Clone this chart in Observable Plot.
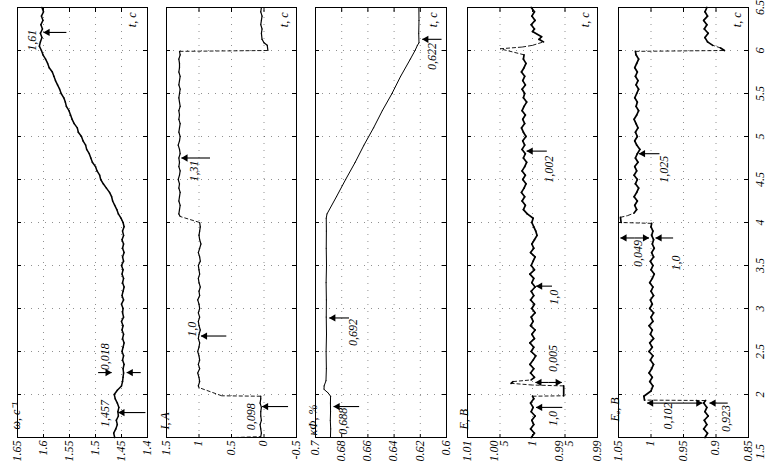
<!DOCTYPE html>
<html><head><meta charset="utf-8">
<script src="https://cdn.jsdelivr.net/npm/d3@7"></script>
<script src="https://cdn.jsdelivr.net/npm/@observablehq/plot@0.6"></script>
<style>
html,body{margin:0;padding:0;background:#fff;overflow:hidden;}
#page{position:relative;width:766px;height:462px;overflow:hidden;background:#fff;}
#rot{position:absolute;left:0;top:0;width:462px;height:766px;transform-origin:0 0;transform:translate(0px,462px) rotate(-90deg);}
#rot svg{position:absolute;left:0;overflow:visible;}
</style></head>
<body><div id="page"><div id="rot"></div></div>
<script>
// ---- time axis ----
const timeTicks = [1.5, 2, 2.5, 3, 3.5, 4, 4.5, 5, 5.5, 6, 6.5];
const timeTickLabels = ["1.5","2","2.5","3","3.5","4","4.5","5","5.5","6","6.5"];

// ---- panel 1: omega ----
const omegaTicks = [1.4, 1.45, 1.5, 1.55, 1.6, 1.65];
const omegaTickLabels = ["1.4","1.45","1.5","1.55","1.6","1.65"];
const omega = [[1.50,1.463],[1.55,1.465],[1.60,1.461],[1.65,1.458],[1.70,1.460],[1.75,1.456],[1.80,1.457],[1.85,1.455],[1.90,1.458],[1.95,1.462],[2.00,1.464],[2.05,1.458],[2.10,1.450],[2.15,1.448],[2.20,1.447],[2.25,1.446],[2.30,1.447],[2.35,1.445],[2.40,1.448],[2.45,1.446],[2.50,1.449],[2.55,1.447],[2.60,1.445],[2.65,1.448],[2.70,1.446],[2.75,1.449],[2.80,1.447],[2.85,1.450],[2.90,1.446],[2.95,1.448],[3.00,1.447],[3.05,1.450],[3.10,1.446],[3.15,1.449],[3.20,1.447],[3.25,1.445],[3.30,1.448],[3.35,1.446],[3.40,1.449],[3.45,1.447],[3.50,1.450],[3.55,1.446],[3.60,1.448],[3.65,1.445],[3.70,1.448],[3.75,1.446],[3.80,1.449],[3.85,1.446],[3.90,1.448],[3.95,1.445],[4.00,1.447],[4.05,1.451],[4.10,1.456],[4.15,1.459],[4.20,1.463],[4.25,1.467],[4.30,1.469],[4.35,1.473],[4.40,1.479],[4.45,1.485],[4.50,1.490],[4.55,1.492],[4.60,1.497],[4.65,1.500],[4.70,1.506],[4.75,1.509],[4.80,1.512],[4.85,1.517],[4.90,1.519],[4.95,1.524],[5.00,1.527],[5.05,1.533],[5.10,1.535],[5.15,1.541],[5.20,1.545],[5.25,1.548],[5.30,1.551],[5.35,1.556],[5.40,1.558],[5.45,1.561],[5.50,1.566],[5.55,1.569],[5.60,1.573],[5.65,1.577],[5.70,1.580],[5.75,1.583],[5.80,1.589],[5.85,1.592],[5.90,1.596],[5.95,1.601],[6.00,1.604],[6.05,1.608],[6.10,1.606],[6.15,1.603],[6.20,1.606],[6.25,1.602],[6.30,1.605],[6.35,1.601],[6.40,1.604],[6.45,1.600],[6.50,1.603]];
const omegaArrows = [{t:6.21,from:1.556,to:1.600},{t:1.79,from:1.404,to:1.456},{t:2.255,from:1.495,to:1.469},{t:2.255,from:1.413,to:1.440}];
const omegaNotes = [{t:6.12,v:1.622,text:"1,61"},{t:1.78,v:1.482,text:"1,457"},{t:2.44,v:1.482,text:"0,018"}];

// ---- panel 2: current ----
const currentTicks = [-0.5, 0, 0.5, 1, 1.5];
const currentTickLabels = ["-0.5","0","0.5","1","1.5"];
const current = [[1.50,0.45],[1.51,0.05],[1.55,0.04],[1.60,0.05],[1.65,0.06],[1.70,0.04],[1.75,0.05],[1.80,0.05],[1.85,0.04],[1.90,0.06],[1.95,0.05],[1.98,0.05],[1.985,0.65],[2.08,1.00],[2.10,1.01],[2.15,0.99],[2.20,1.00],[2.25,1.02],[2.30,0.99],[2.35,1.01],[2.40,0.99],[2.45,1.00],[2.50,1.02],[2.55,1.00],[2.60,0.99],[2.65,1.01],[2.70,1.00],[2.75,0.98],[2.80,1.00],[2.85,1.01],[2.90,0.99],[2.95,1.01],[3.00,0.99],[3.05,1.00],[3.10,1.02],[3.15,0.99],[3.20,1.00],[3.25,0.98],[3.30,1.00],[3.35,1.01],[3.40,0.99],[3.45,1.00],[3.50,1.01],[3.55,0.98],[3.60,0.99],[3.65,1.01],[3.70,0.99],[3.75,0.97],[3.80,0.99],[3.85,1.00],[3.90,0.99],[3.95,0.98],[4.00,0.99],[4.07,1.29],[4.10,1.31],[4.15,1.30],[4.20,1.29],[4.25,1.31],[4.30,1.30],[4.35,1.29],[4.40,1.31],[4.45,1.30],[4.50,1.32],[4.55,1.30],[4.60,1.29],[4.65,1.31],[4.70,1.30],[4.75,1.31],[4.80,1.29],[4.85,1.30],[4.90,1.32],[4.95,1.30],[5.00,1.29],[5.05,1.31],[5.10,1.30],[5.15,1.29],[5.20,1.31],[5.25,1.30],[5.30,1.31],[5.35,1.29],[5.40,1.30],[5.45,1.31],[5.50,1.30],[5.55,1.29],[5.60,1.31],[5.65,1.30],[5.70,1.29],[5.75,1.31],[5.80,1.30],[5.85,1.30],[5.90,1.31],[5.95,1.29],[5.99,1.30],[6.00,-0.06],[6.06,-0.05],[6.09,0.00],[6.13,0.03],[6.20,0.04],[6.25,0.03],[6.30,0.05],[6.35,0.04],[6.40,0.03],[6.45,0.05],[6.50,0.04]];
const currentArrows = [{t:1.86,from:-0.37,to:0.03},{t:2.68,from:0.58,to:0.97},{t:4.75,from:0.83,to:1.27}];
const currentNotes = [{t:1.74,v:0.20,text:"0,098"},{t:2.76,v:1.10,text:"1,0"},{t:4.60,v:1.07,text:"1,31"}];

// ---- panel 3: kappa phi ----
const kappaTicks = [0.6, 0.62, 0.64, 0.66, 0.68, 0.7];
const kappaTickLabels = ["0.6","0.62","0.64","0.66","0.68","0.7"];
const kappa = [[1.50,0.6886],[1.60,0.6884],[1.70,0.6887],[1.80,0.6885],[1.90,0.6886],[1.98,0.6885],[2.02,0.6905],[2.06,0.6935],[2.10,0.6934],[2.16,0.6920],[2.30,0.6917],[2.50,0.6919],[2.70,0.6916],[2.90,0.6918],[3.10,0.6917],[3.30,0.6919],[3.50,0.6916],[3.70,0.6918],[3.90,0.6917],[4.05,0.6918],[4.10,0.6912],[4.30,0.6840],[4.50,0.6770],[4.70,0.6697],[4.90,0.6630],[5.10,0.6557],[5.30,0.6490],[5.50,0.6416],[5.70,0.6350],[5.90,0.6276],[6.00,0.6240],[6.06,0.6222],[6.09,0.6210],[6.20,0.6212],[6.35,0.6210],[6.50,0.6211]];
const kappaArrows = [{t:1.86,from:0.6667,to:0.6862},{t:2.89,from:0.6744,to:0.6895},{t:6.13,from:0.6038,to:0.6185}];
const kappaNotes = [{t:1.69,v:0.679,text:"0,688"},{t:2.72,v:0.671,text:"0,692"},{t:5.93,v:0.611,text:"0,622"}];

// ---- panel 4: E ----
const eTicks = [0.99, 0.995, 1, 1.005, 1.01];
const eTickLabels = ["0.99","0.99\n5","1","1.00\n5","1.01"];
const voltE = [[1.50,1.0002],[1.55,0.9997],[1.60,1.0003],[1.65,0.9998],[1.70,1.0001],[1.75,0.9996],[1.80,1.0002],[1.85,0.9999],[1.90,1.0003],[1.95,0.9998],[1.98,1.0000],[1.985,0.9952],[2.10,0.9952],[2.11,1.0000],[2.13,1.0033],[2.15,1.0030],[2.17,1.0002],[2.20,0.9997],[2.25,1.0003],[2.30,0.9998],[2.35,1.0004],[2.40,0.9999],[2.45,0.9995],[2.50,1.0002],[2.55,0.9998],[2.60,1.0004],[2.65,0.9997],[2.70,1.0001],[2.75,0.9996],[2.80,1.0003],[2.85,0.9999],[2.90,1.0002],[2.95,0.9996],[3.00,1.0001],[3.05,0.9997],[3.10,1.0003],[3.15,0.9998],[3.20,1.0002],[3.25,0.9996],[3.30,1.0001],[3.35,0.9998],[3.40,1.0004],[3.45,0.9997],[3.50,1.0002],[3.55,0.9999],[3.60,0.9996],[3.65,1.0003],[3.70,0.9998],[3.75,1.0001],[3.80,0.9997],[3.85,0.9993],[3.90,0.9995],[3.95,0.9998],[4.00,1.0001],[4.05,0.9999],[4.10,1.0008],[4.15,1.0014],[4.20,1.0011],[4.25,1.0016],[4.30,1.0012],[4.35,1.0017],[4.40,1.0013],[4.45,1.0010],[4.50,1.0015],[4.55,1.0011],[4.60,1.0016],[4.65,1.0012],[4.70,1.0009],[4.75,1.0014],[4.80,1.0011],[4.85,1.0016],[4.90,1.0012],[4.95,1.0015],[5.00,1.0010],[5.05,1.0014],[5.10,1.0017],[5.15,1.0012],[5.20,1.0015],[5.25,1.0011],[5.30,1.0016],[5.35,1.0013],[5.40,1.0009],[5.45,1.0014],[5.50,1.0012],[5.55,1.0016],[5.60,1.0011],[5.65,1.0015],[5.70,1.0012],[5.75,1.0017],[5.80,1.0013],[5.85,1.0010],[5.90,1.0014],[5.95,1.0013],[6.02,1.0050],[6.04,1.0016],[6.06,1.0000],[6.10,0.9983],[6.13,0.9990],[6.16,0.9986],[6.22,1.0000],[6.25,0.9997],[6.30,1.0002],[6.35,0.9996],[6.40,1.0001],[6.45,0.9997],[6.50,1.0002]];
const eArrows = [{t:1.85,from:0.99542,to:0.99945},{t:2.14,from:0.9975,to:0.99955},{t:2.14,from:0.9975,to:0.9955},{t:3.26,from:0.9970,to:0.99945},{t:4.83,from:0.9978,to:1.0009}];
const eNotes = [{t:1.72,v:0.9968,text:"1,0"},{t:2.42,v:0.9968,text:"0,005"},{t:3.13,v:0.9966,text:"1,0"},{t:4.62,v:0.9974,text:"1,002"}];

// ---- panel 5: Ea ----
const eaTicks = [0.85, 0.9, 0.95, 1, 1.05];
const eaTickLabels = ["0.85","0.9","0.95","1","1.05"];
const voltEa = [[1.50,0.917],[1.55,0.913],[1.60,0.919],[1.65,0.914],[1.70,0.918],[1.75,0.912],[1.80,0.917],[1.85,0.914],[1.90,0.919],[1.93,0.916],[1.935,1.010],[1.98,1.011],[2.04,1.000],[2.10,0.997],[2.15,1.002],[2.20,0.998],[2.25,1.003],[2.30,0.999],[2.35,0.996],[2.40,1.001],[2.45,0.997],[2.50,1.003],[2.55,0.998],[2.60,1.002],[2.65,0.996],[2.70,1.001],[2.75,0.998],[2.80,1.003],[2.85,0.997],[2.90,1.000],[2.95,0.996],[3.00,1.002],[3.05,0.998],[3.10,1.001],[3.15,0.996],[3.20,1.000],[3.25,0.997],[3.30,1.002],[3.35,0.998],[3.40,0.995],[3.45,1.000],[3.50,0.997],[3.55,1.001],[3.60,0.996],[3.65,0.999],[3.70,0.995],[3.75,0.998],[3.80,0.996],[3.85,0.999],[3.90,0.997],[3.95,1.000],[3.99,0.999],[4.00,1.046],[4.06,1.047],[4.08,1.036],[4.11,1.026],[4.15,1.022],[4.20,1.025],[4.25,1.021],[4.30,1.026],[4.35,1.022],[4.40,1.019],[4.45,1.024],[4.50,1.021],[4.55,1.026],[4.60,1.022],[4.65,1.025],[4.70,1.020],[4.75,1.024],[4.80,1.021],[4.85,1.017],[4.90,1.022],[4.95,1.025],[5.00,1.021],[5.05,1.024],[5.10,1.020],[5.15,1.023],[5.20,1.026],[5.25,1.022],[5.30,1.019],[5.35,1.023],[5.40,1.021],[5.45,1.025],[5.50,1.022],[5.55,1.019],[5.60,1.023],[5.65,1.020],[5.70,1.024],[5.75,1.021],[5.80,1.025],[5.85,1.022],[5.90,1.019],[5.95,1.023],[5.99,1.024],[6.00,0.887],[6.03,0.893],[6.06,0.905],[6.10,0.913],[6.15,0.917],[6.20,0.912],[6.25,0.918],[6.30,0.914],[6.35,0.919],[6.40,0.913],[6.45,0.917],[6.50,0.914]];
const eaArrows = [{t:1.90,from:0.963,to:1.006},{t:1.90,from:0.963,to:0.921},{t:1.90,from:0.882,to:0.910},{t:3.82,from:1.025,to:1.047},{t:3.82,from:1.025,to:1.003},{t:3.82,from:0.966,to:0.993},{t:4.80,from:0.987,to:1.0185}];
const eaNotes = [{t:1.75,v:0.974,text:"0,102"},{t:1.72,v:0.884,text:"0,923"},{t:3.64,v:1.020,text:"0,049"},{t:3.53,v:0.962,text:"1,0"},{t:4.62,v:0.980,text:"1,025"}];

// ---- panel titles ----
const panelTitles = ["ω, c⁻¹", "I, A", "κΦ, %", "E, B", "Eₐ, B"];
const timeTitle = "t, c";

// ---- build ----
const W = 462, ML = 24, MR = 8, MT = 17;
const fmtFrom = (ticks, labels) => d => labels[ticks.findIndex(t => Math.abs(t - d) < 1e-9)];
const font = {fontFamily: "'Liberation Serif', 'Times New Roman', serif", fontStyle: "italic"};

const panels = [
  {data: omega, ticks: omegaTicks, labels: omegaTickLabels, arrows: omegaArrows, notes: omegaNotes, title: panelTitles[0], top: 0, fh: 130, mb: 2, tdx: 8, tdy: -6, cdy: -12, sw: 1.5},
  {data: current, ticks: currentTicks, labels: currentTickLabels, arrows: currentArrows, notes: currentNotes, title: panelTitles[1], top: 149, fh: 130, mb: 2, tdx: 8, tdy: -6, cdy: -9, sw: 1.2},
  {data: kappa, ticks: kappaTicks, labels: kappaTickLabels, arrows: kappaArrows, notes: kappaNotes, title: panelTitles[2], top: 298, fh: 131, mb: 2, tdx: 2, tdy: -7, cdy: -10, sw: 1.0},
  {data: voltE, ticks: eTicks, labels: eTickLabels, arrows: eArrows, notes: eNotes, title: panelTitles[3], top: 450, fh: 130, mb: 2, tdx: 8, tdy: -8, cdy: -9, sw: 1.7},
  {data: voltEa, ticks: eaTicks, labels: eaTickLabels, arrows: eaArrows, notes: eaNotes, title: panelTitles[4], top: 601, fh: 130, mb: 18, tdx: 16, tdy: -8, cdy: -8, sw: 1.7, last: true}
];

const root = document.getElementById("rot");
const fw = W - ML - MR;
const tfmt = fmtFrom(timeTicks, timeTickLabels);
const tSpan = timeTicks[timeTicks.length - 1] - timeTicks[0];

for (const p of panels) {
  const dom = [p.ticks[0], p.ticks[p.ticks.length - 1]];
  const vSpan = dom[1] - dom[0];
  // split the trace into slow parts (solid) and fast jumps (thin, broken like the scan)
  const segs = d3.pairs(p.data).map(([a, b]) => {
    const px = (b[0] - a[0]) / tSpan * fw;
    const py = Math.abs(b[1] - a[1]) / vSpan * p.fh;
    return {t1: a[0], v1: a[1], t2: b[0], v2: b[1], fast: py > 6 && py > 2 * px};
  });
  const grid = {stroke: "#000", strokeOpacity: 0.55, strokeDasharray: "1,6", strokeWidth: 0.8};
  const up = p.arrows.filter(a => a.to > a.from);
  const down = p.arrows.filter(a => a.to < a.from);
  const marks = [
    Plot.ruleX(timeTicks.slice(1, -1), {...grid}),
    Plot.ruleY(p.ticks.slice(1, -1), {...grid}),
    Plot.frame({stroke: "#000", strokeWidth: 1}),
    Plot.tickY(p.ticks, {y: d => d, insetRight: fw - 4, stroke: "#000"}),
    Plot.tickY(p.ticks, {y: d => d, insetLeft: fw - 4, stroke: "#000"}),
    Plot.tickX(timeTicks, {x: d => d, insetBottom: p.fh - 4, stroke: "#000"}),
    Plot.tickX(timeTicks, {x: d => d, insetTop: p.fh - 4, stroke: "#000"}),
    Plot.axisY({ticks: p.ticks, tickFormat: fmtFrom(p.ticks, p.labels), tickSize: 0, tickPadding: 3, fontSize: 12, lineHeight: 0.85}),
    Plot.link(segs.filter(s => !s.fast), {x1: "t1", y1: "v1", x2: "t2", y2: "v2", stroke: "#000", strokeWidth: p.sw, strokeLinecap: "round"}),
    Plot.link(segs.filter(s => s.fast), {x1: "t1", y1: "v1", x2: "t2", y2: "v2", stroke: "#000", strokeWidth: 0.9, strokeDasharray: "4,2"}),
    Plot.link(p.arrows, {x1: "t", x2: "t", y1: "from", y2: "to", stroke: "#000", strokeWidth: 1.1}),
    Plot.dot(up, {x: "t", y: "to", symbol: "triangle", r: 2.7, fill: "#000", stroke: "none", dy: 4}),
    Plot.dot(down, {x: "t", y: "to", symbol: "triangle", rotate: 180, r: 2.7, fill: "#000", stroke: "none", dy: -4}),
    Plot.text(p.notes, {x: "t", y: "v", text: "text", fontSize: 12, fill: "#000"}),
    Plot.text([timeTitle], {text: d => d, frameAnchor: "bottom-right", dx: -5, dy: p.cdy, textAnchor: "end", fontSize: 12}),
    Plot.text([p.title], {text: d => d, frameAnchor: "top-left", dx: p.tdx, dy: p.tdy, textAnchor: "start", fontSize: 12})
  ];
  if (p.last) {
    marks.push(Plot.axisX({ticks: timeTicks.slice(1), tickFormat: tfmt, tickSize: 0, tickPadding: 7, fontSize: 12, anchor: "bottom"}));
    marks.push(Plot.axisX({ticks: timeTicks.slice(0, 1), tickFormat: tfmt, tickSize: 0, tickPadding: 7, fontSize: 12, anchor: "bottom", dx: -14}));
  }
  const svg = Plot.plot({
    width: W,
    height: MT + p.fh + p.mb,
    marginLeft: ML, marginRight: MR, marginTop: MT, marginBottom: p.mb,
    x: {domain: [timeTicks[0], timeTicks[timeTicks.length - 1]], axis: null},
    y: {domain: dom, axis: null},
    style: {...font, fontSize: "12px", background: "transparent", color: "#000", overflow: "visible"},
    marks
  });
  svg.style.position = "absolute";
  svg.style.top = p.top + "px";
  svg.style.left = "0px";
  root.appendChild(svg);
}
</script>
</body></html>
